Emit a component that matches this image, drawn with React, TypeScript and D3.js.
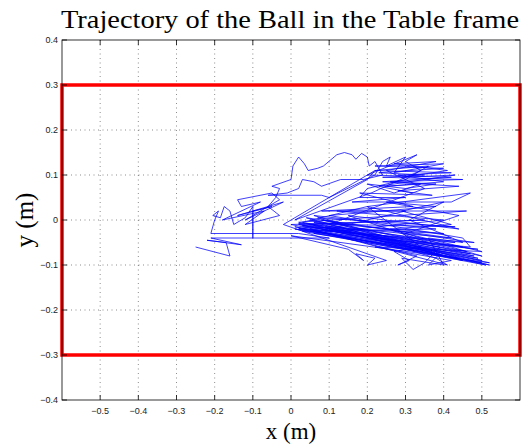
import { useEffect, useRef } from "react";
import * as d3 from "d3";

const W = 523;
const H = 444;

const xTicks = [-0.5, -0.4, -0.3, -0.2, -0.1, 0, 0.1, 0.2, 0.3, 0.4, 0.5];
const yTicks = [-0.4, -0.3, -0.2, -0.1, 0, 0.1, 0.2, 0.3, 0.4];

// table edges (m)
const tableX = [-0.6, 0.6];
const tableY = [-0.3, 0.3];

// ball trajectory
const trajX = [
  -0.25, -0.16, -0.17, -0.22, -0.13, -0.21, 0.1, 0.02, -0.21, -0.2,
  -0.19, -0.205, -0.185, -0.175, -0.16, -0.15, -0.12, -0.1, -0.1, -0.1,
  -0.05, -0.14, -0.02, -0.12, -0.03, -0.05, -0.14, -0.13, -0.08, -0.18,
  -0.07, -0.12, -0.03, -0.06, -0.04, -0.03, -0.05, 0.0, 0.005, 0.02,
  0.035, 0.045, 0.07, 0.085, 0.12, 0.14, 0.16, 0.17, 0.185, 0.2,
  0.205, 0.22, 0.24, 0.19, 0.13, 0.08, 0.06, 0.03, 0.02, -0.01,
  -0.06, 0.08, 0.1, 0.22, 0.24, 0.26, 0.25, 0.3, 0.27, 0.4,
  0.22, 0.4, 0.23, 0.35, 0.24, 0.45, 0.26, 0.38, 0.3, 0.2,
  0.27, 0.34, 0.25, 0.4, 0.28, 0.42, 0.22, 0.36, 0.3, 0.2,
  0.18, 0.3, 0.16, 0.42, 0.47, 0.2, 0.03, 0.5, 0.02, 0.45,
  0.05, 0.52, 0.01, 0.4, 0.04, 0.48, 0.02, 0.44, 0.06, 0.38,
  0.03, 0.5, 0.0, 0.35, 0.05, 0.42, 0.08, 0.46, 0.1, 0.3,
  0.12, 0.4, 0.06, 0.48, 0.09, 0.36, 0.15, 0.44, 0.2, 0.34,
  0.27, 0.31, 0.28, 0.33, 0.05, 0.41, 0.38, 0.21, 0.47, 0.45,
  0.1, 0.38, 0.25, 0.44, 0.3, 0.5, 0.22, 0.42, 0.36, 0.39,
  0.08, 0.52, 0.0, 0.15, 0.19, 0.17, 0.22, 0.2, 0.25, -0.02,
  0.22, 0.2, 0.01, 0.21, 0.34, 0.3, 0.33,
  0.2, 0.42, 0.24, 0.44, 0.28, 0.37, 0.18, 0.32, 0.08, 0.46,
  0.02, 0.49, 0.03, 0.47, 0.01, 0.51, 0.04, 0.43, 0.02, 0.45,
  0.06, 0.4, 0.03, 0.49, 0.05, 0.37, 0.07, 0.43, 0.02, 0.39,
  0.35, 0.32, 0.29, 0.4, 0.36, 0.45, 0.31, 0.4, 0.29, 0.42,
  0.26, 0.5, 0.1, 0.35, 0.25, 0.38, 0.27, 0.41, 0.29, 0.43,
  0.23, 0.32,
];
const trajY = [
  -0.06, -0.08, -0.05, -0.045, -0.055, -0.04, -0.04, -0.03, -0.03, 0.0,
  0.02, 0.01, 0.005, 0.03, 0.02, -0.01, 0.005, 0.03, -0.04, 0.02,
  0.03, 0.01, 0.04, 0.0, 0.045, 0.06, 0.045, 0.03, 0.04, 0.0,
  0.02, -0.01, 0.01, 0.03, 0.05, 0.07, 0.075, 0.09, 0.12, 0.14,
  0.125, 0.11, 0.115, 0.12, 0.145, 0.15, 0.145, 0.135, 0.148, 0.14,
  0.12, 0.13, 0.1, 0.09, 0.09, 0.075, 0.085, 0.09, 0.07, 0.06,
  0.055, 0.055, 0.05, 0.1, 0.13, 0.14, 0.12, 0.14, 0.105, 0.125,
  0.12, 0.115, 0.105, 0.1, 0.095, 0.09, 0.085, 0.08, 0.07, 0.08,
  0.06, 0.08, 0.075, 0.085, 0.1, 0.105, 0.11, 0.12, 0.09, 0.07,
  0.05, 0.05, 0.04, 0.04, 0.06, 0.03, -0.005, -0.09, -0.01, -0.06,
  0.0, -0.1, -0.015, -0.08, 0.005, -0.05, -0.02, -0.085, 0.01, -0.02,
  -0.025, -0.095, -0.01, 0.0, -0.01, -0.04, 0.0, -0.07, -0.02, 0.02,
  0.02, 0.0, -0.03, -0.08, -0.015, -0.05, 0.01, -0.02, 0.03, -0.06,
  -0.07, -0.09, -0.1, -0.08, -0.02, -0.1, -0.085, -0.04, -0.06, -0.04,
  0.01, 0.03, 0.04, 0.01, -0.03, -0.07, -0.06, -0.09, -0.1, -0.075,
  -0.02, -0.095, -0.035, -0.065, -0.09, -0.075, -0.085, -0.1, -0.09, -0.01,
  0.11, 0.09, 0.0, 0.06, 0.11, 0.13, 0.145,
  0.1, 0.095, 0.085, 0.075, 0.065, 0.055, 0.06, 0.03, 0.02, 0.02,
  -0.005, -0.085, -0.012, -0.075, -0.02, -0.1, -0.008, -0.05, -0.018, -0.09,
  -0.005, -0.03, -0.015, -0.065, -0.025, -0.07, 0.005, -0.015, -0.008, -0.06,
  -0.095, -0.11, -0.085, -0.1, -0.04, -0.05, 0.0, 0.04, 0.02, -0.01,
  -0.02, -0.08, -0.01, 0.07, 0.11, 0.13, 0.125, 0.11, 0.095, 0.1,
  0.075, 0.06,
];

const App = () => {
  const svgRef = useRef<SVGSVGElement>(null);

  useEffect(() => {
    if (!svgRef.current) return;
    const svg = d3.select(svgRef.current);
    svg.selectAll("*").remove();

    const left = 62;
    const right = 520;
    const top = 40;
    const bottom = 400;

    const x = d3.scaleLinear().domain([-0.6, 0.6]).range([left, right]);
    const y = d3.scaleLinear().domain([-0.4, 0.4]).range([bottom, top]);

    // grid
    const grid = svg.append("g").attr("stroke", "#000").attr("stroke-width", 0.6)
      .attr("stroke-dasharray", "1,3.5").attr("opacity", 0.75);
    xTicks.forEach((t) => {
      grid.append("line").attr("x1", x(t)).attr("x2", x(t)).attr("y1", top).attr("y2", bottom);
    });
    yTicks.slice(1, -1).forEach((t) => {
      grid.append("line").attr("x1", left).attr("x2", right).attr("y1", y(t)).attr("y2", y(t));
    });

    // trajectory
    const pts: [number, number][] = trajX.map((v, i) => [v, trajY[i]]);
    const line = d3.line<[number, number]>().x((d) => x(d[0])).y((d) => y(d[1]));
    svg.append("path").attr("d", line(pts)).attr("fill", "none")
      .attr("stroke", "#0000ff").attr("stroke-width", 0.75).attr("stroke-linejoin", "round");

    // table outline
    svg.append("rect")
      .attr("x", x(tableX[0])).attr("y", y(tableY[1]))
      .attr("width", x(tableX[1]) - x(tableX[0]))
      .attr("height", y(tableY[0]) - y(tableY[1]))
      .attr("fill", "none").attr("stroke", "#ff0000").attr("stroke-width", 3.5);

    // axes box
    svg.append("rect").attr("x", left).attr("y", top)
      .attr("width", right - left).attr("height", bottom - top)
      .attr("fill", "none").attr("stroke", "#000").attr("stroke-width", 0.8);

    const tk = svg.append("g").attr("stroke", "#000").attr("stroke-width", 0.8);
    xTicks.forEach((t) => {
      tk.append("line").attr("x1", x(t)).attr("x2", x(t)).attr("y1", bottom).attr("y2", bottom - 5);
      tk.append("line").attr("x1", x(t)).attr("x2", x(t)).attr("y1", top).attr("y2", top + 5);
    });
    yTicks.forEach((t) => {
      tk.append("line").attr("x1", left).attr("x2", left + 5).attr("y1", y(t)).attr("y2", y(t));
      tk.append("line").attr("x1", right).attr("x2", right - 5).attr("y1", y(t)).attr("y2", y(t));
    });

    const fmt = (t: number) => (t === 0 ? "0" : d3.format(".1f")(t).replace("-", "\u2212"));
    const lbl = svg.append("g").attr("font-family", "'Liberation Sans', Arial, sans-serif")
      .attr("font-size", 9).attr("fill", "#222");
    xTicks.forEach((t) => {
      lbl.append("text").attr("x", x(t)).attr("y", bottom + 14)
        .attr("text-anchor", "middle").text(fmt(t));
    });
    yTicks.forEach((t) => {
      lbl.append("text").attr("x", left - 4).attr("y", y(t) + 3)
        .attr("text-anchor", "end").text(fmt(t));
    });

    const serif = "'Liberation Serif', serif";
    svg.append("text").attr("x", 290).attr("y", 28).attr("text-anchor", "middle")
      .attr("font-family", serif).attr("font-size", 25)
      .attr("textLength", 458).attr("lengthAdjust", "spacingAndGlyphs")
      .text("Trajectory of the Ball in the Table frame");
    svg.append("text").attr("x", 291).attr("y", 439).attr("text-anchor", "middle")
      .attr("font-family", serif).attr("font-size", 23)
      .text("x (m)");
    svg.append("text").attr("transform", "translate(33,220) rotate(-90)")
      .attr("text-anchor", "middle")
      .attr("font-family", serif).attr("font-size", 25)
      .text("y (m)");
  }, []);

  return (
    <svg
      ref={svgRef}
      width={W}
      height={H}
      style={{ position: "absolute", left: 0, top: 0, background: "#fff" }}
    />
  );
};

export default App;
